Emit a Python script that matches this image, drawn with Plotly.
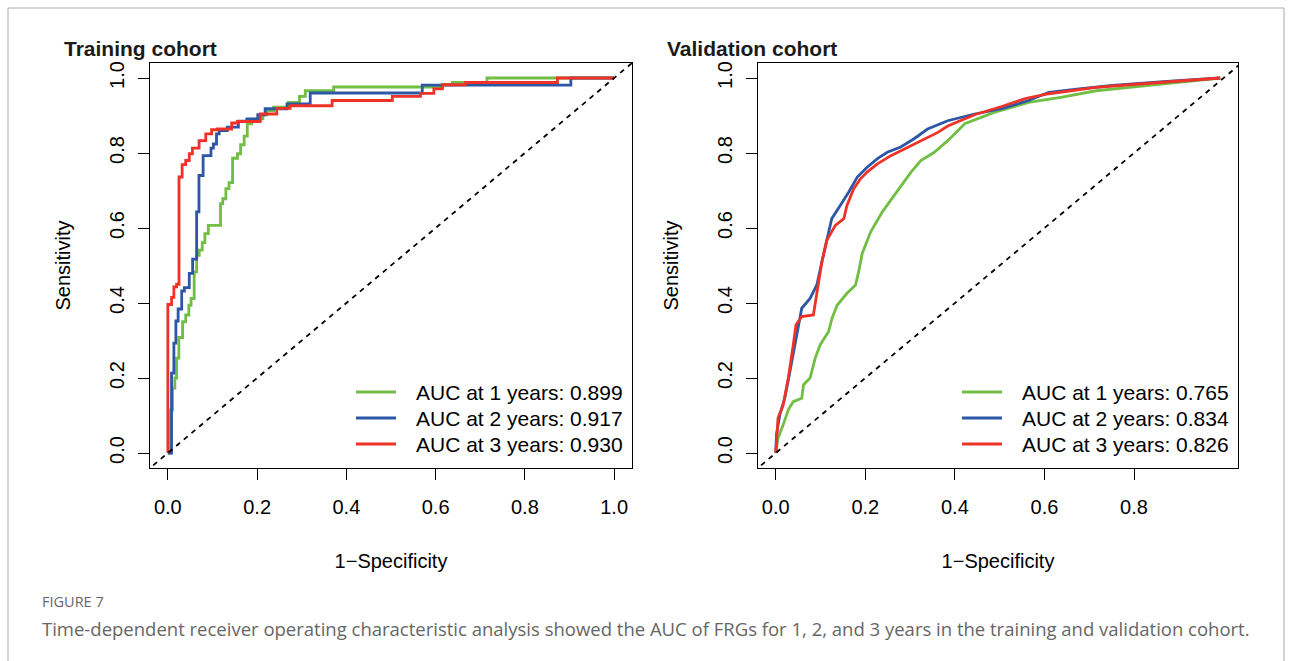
import plotly.graph_objects as go

W, H = 1292, 661

# ---------------- data ----------------
train_labels = ["AUC at 1 years: 0.899", "AUC at 2 years: 0.917", "AUC at 3 years: 0.930"]
val_labels = ["AUC at 1 years: 0.765", "AUC at 2 years: 0.834", "AUC at 3 years: 0.826"]
colors = ["#70BE44", "#2C56A6", "#EE3228"]

# Training cohort (step ROC curves, points after each vertical rise)
train_1y_fpr = [0, 0.006, 0.0105, 0.0157, 0.0195, 0.0247, 0.033, 0.04, 0.047, 0.052, 0.059, 0.0645,
                0.0703, 0.077, 0.083, 0.0906, 0.118, 0.123, 0.130, 0.137, 0.145, 0.156, 0.163, 0.171,
                0.178, 0.188, 0.199, 0.213, 0.222, 0.237, 0.27, 0.295, 0.308, 0.3715, 0.615, 0.6375,
                0.715, 1.0]
train_1y_tpr = [0, 0.115, 0.173, 0.2, 0.253, 0.308, 0.35, 0.368, 0.394, 0.412, 0.483, 0.527,
                0.541, 0.561, 0.585, 0.607, 0.665, 0.678, 0.705, 0.721, 0.786, 0.798, 0.822, 0.845,
                0.878, 0.884, 0.891, 0.902, 0.913, 0.922, 0.935, 0.951, 0.966, 0.976, 0.982, 0.9885,
                1.0, 1.0]

train_2y_fpr = [0, 0.0083, 0.0135, 0.018, 0.023, 0.031, 0.037, 0.048, 0.0555, 0.0645, 0.0697, 0.079,
                0.0966, 0.102, 0.109, 0.115, 0.133, 0.158, 0.177, 0.2015, 0.218, 0.267, 0.319, 0.570,
                0.903, 1.0]
train_2y_tpr = [0, 0.213, 0.293, 0.352, 0.384, 0.432, 0.441, 0.479, 0.517, 0.643, 0.74, 0.793,
                0.813, 0.824, 0.851, 0.86, 0.869, 0.885, 0.891, 0.902, 0.918, 0.931, 0.96, 0.981,
                1.0, 1.0]

train_3y_fpr = [0, 0, 0.0083, 0.0135, 0.0196, 0.025, 0.032, 0.040, 0.048, 0.055, 0.070, 0.085, 0.098,
                0.111, 0.143, 0.156, 0.207, 0.244, 0.274, 0.368, 0.503, 0.566, 0.596, 0.615, 0.667,
                0.873, 1.0]
train_3y_tpr = [0, 0.396, 0.415, 0.443, 0.45, 0.736, 0.769, 0.78, 0.798, 0.813, 0.833, 0.851, 0.862,
                0.864, 0.88, 0.884, 0.904, 0.919, 0.926, 0.94, 0.951, 0.959, 0.971, 0.982, 0.988,
                1.0, 1.0]

# Validation cohort
val_1y_fpr = [0, 0.005, 0.0165, 0.028, 0.039, 0.058, 0.062, 0.0766, 0.088, 0.099, 0.118, 0.1255, 0.137,
              0.159, 0.178, 0.185, 0.193, 0.212, 0.238, 0.264, 0.287, 0.302, 0.324, 0.354, 0.384, 0.407,
              0.422, 0.489, 0.5645, 0.64, 0.715, 0.79, 0.865, 0.94, 0.9925]
val_1y_tpr = [0, 0.04, 0.075, 0.115, 0.137, 0.146, 0.182, 0.2, 0.253, 0.288, 0.324, 0.359, 0.394,
              0.426, 0.448, 0.483, 0.532, 0.59, 0.643, 0.687, 0.723, 0.749, 0.78, 0.802, 0.833, 0.86,
              0.878, 0.909, 0.935, 0.949, 0.966, 0.975, 0.984, 0.995, 1.0]

val_2y_fpr = [0, 0.0015, 0.009, 0.020, 0.0315, 0.043, 0.050, 0.058, 0.0766, 0.0917, 0.103, 0.114, 0.125,
              0.144, 0.163, 0.182, 0.204, 0.227, 0.249, 0.279, 0.309, 0.339, 0.384, 0.444, 0.5045,
              0.5645, 0.61, 0.677, 0.752, 0.865, 0.94, 0.9925]
val_2y_tpr = [0, 0.049, 0.102, 0.146, 0.217, 0.288, 0.341, 0.386, 0.412, 0.448, 0.51, 0.572, 0.625,
              0.66, 0.696, 0.736, 0.762, 0.785, 0.802, 0.816, 0.838, 0.864, 0.886, 0.904, 0.918,
              0.94, 0.962, 0.971, 0.98, 0.99, 0.995, 1.0]

val_3y_fpr = [0, 0.002, 0.005, 0.0165, 0.028, 0.039, 0.045, 0.050, 0.058, 0.084, 0.095, 0.103, 0.114,
              0.133, 0.152, 0.159, 0.174, 0.189, 0.204, 0.227, 0.257, 0.287, 0.317, 0.362, 0.384,
              0.444, 0.5045, 0.557, 0.61, 0.715, 0.79, 0.9025, 0.9925]
val_3y_tpr = [0, 0.04, 0.093, 0.128, 0.2, 0.288, 0.341, 0.35, 0.364, 0.368, 0.448, 0.51, 0.567,
              0.607, 0.625, 0.66, 0.705, 0.731, 0.749, 0.771, 0.793, 0.811, 0.829, 0.855, 0.872,
              0.902, 0.924, 0.945, 0.958, 0.975, 0.982, 0.993, 1.0]

train_x_ticks = [0, 0.2, 0.4, 0.6, 0.8, 1.0]
val_x_ticks = [0, 0.2, 0.4, 0.6, 0.8]
y_ticks = [0, 0.2, 0.4, 0.6, 0.8, 1.0]

FONT = "Liberation Sans, Arial, sans-serif"

fig = go.Figure()

train = [(train_1y_fpr, train_1y_tpr), (train_2y_fpr, train_2y_tpr), (train_3y_fpr, train_3y_tpr)]
val = [(val_1y_fpr, val_1y_tpr), (val_2y_fpr, val_2y_tpr), (val_3y_fpr, val_3y_tpr)]

for (fx, ty), name, c in zip(train, train_labels, colors):
    fig.add_trace(go.Scatter(x=fx, y=ty, mode="lines", name=name, xaxis="x", yaxis="y",
                             line=dict(color=c, width=2.8, shape="hv"), showlegend=False))
fig.add_trace(go.Scatter(x=[-0.05, 1.05], y=[-0.05, 1.05], mode="lines", xaxis="x", yaxis="y",
                         line=dict(color="black", width=1.8, dash="5px,5px"), showlegend=False))

for (fx, ty), name, c in zip(val, val_labels, colors):
    fig.add_trace(go.Scatter(x=fx, y=ty, mode="lines", name=name, xaxis="x2", yaxis="y2",
                             line=dict(color=c, width=2.8), showlegend=False))
fig.add_trace(go.Scatter(x=[-0.05, 1.05], y=[-0.05, 1.05], mode="lines", xaxis="x2", yaxis="y2",
                         line=dict(color="black", width=1.8, dash="5px,5px"), showlegend=False))

def px_x(p):
    return p / W

def px_y(p):
    return 1 - p / H

axis_common = dict(showline=True, linecolor="black", linewidth=1, mirror=True,
                   showgrid=False, zeroline=False, ticks="outside", ticklen=11,
                   tickwidth=1, tickcolor="black", automargin=False,
                   tickfont=dict(family=FONT, size=20, color="black"))

box_bottom, box_top = 468, 63

fig.update_layout(
    width=W, height=H, autosize=False,
    margin=dict(l=0, r=0, t=0, b=0),
    paper_bgcolor="white", plot_bgcolor="white",
    font=dict(family=FONT, size=20, color="black"),
    showlegend=False,
    xaxis=dict(domain=[px_x(150), px_x(632)], range=[-0.04, 1.04], tickvals=train_x_ticks,
               ticktext=[f"{v:.1f}" for v in train_x_ticks], anchor="y",
               title=dict(text="1\u2212Specificity", standoff=36, font=dict(size=20)),
               ticklabelstandoff=10, **axis_common),
    yaxis=dict(domain=[px_y(box_bottom), px_y(box_top)], range=[-0.04, 1.04], tickvals=y_ticks,
               ticktext=[f"{v:.1f}" for v in y_ticks], anchor="x", tickangle=-90,
               title=dict(text="Sensitivity", standoff=30, font=dict(size=20)),
               ticklabelstandoff=6, **axis_common),
    xaxis2=dict(domain=[px_x(758), px_x(1238)], range=[-0.0397, 1.0322], tickvals=val_x_ticks,
                ticktext=[f"{v:.1f}" for v in val_x_ticks], anchor="y2",
                title=dict(text="1\u2212Specificity", standoff=36, font=dict(size=20)),
                ticklabelstandoff=10, **axis_common),
    yaxis2=dict(domain=[px_y(box_bottom), px_y(box_top)], range=[-0.04, 1.04], tickvals=y_ticks,
                ticktext=[f"{v:.1f}" for v in y_ticks], anchor="x2", tickangle=-90,
                title=dict(text="Sensitivity", standoff=30, font=dict(size=20)),
                ticklabelstandoff=6, **axis_common),
)

annotations = [
    dict(text="<b>Training cohort</b>", x=px_x(62), y=px_y(48), xref="paper", yref="paper",
         xanchor="left", yanchor="middle", showarrow=False, font=dict(family=FONT, size=21, color="#1a1a1a")),
    dict(text="<b>Validation cohort</b>", x=px_x(665), y=px_y(48), xref="paper", yref="paper",
         xanchor="left", yanchor="middle", showarrow=False, font=dict(family=FONT, size=21, color="#1a1a1a")),
    dict(text="FIGURE 7", x=px_x(40), y=px_y(601), xref="paper", yref="paper",
         xanchor="left", yanchor="middle", showarrow=False,
         font=dict(family="Open Sans, sans-serif", size=14.5, color="#666666")),
    dict(text="Time-dependent receiver operating characteristic analysis showed the AUC of FRGs for 1, 2, and 3 years in the training and validation cohort.",
         x=px_x(40), y=px_y(628), xref="paper", yref="paper",
         xanchor="left", yanchor="middle", showarrow=False,
         font=dict(family="Open Sans, sans-serif", size=18.5, color="#666666")),
]

# Legends (one per panel, no box) drawn at the bottom-right of each plot box
legend_rows_y = [392, 418, 444]
for labels, line_x0 in ((train_labels, 356), (val_labels, 962)):
    for lab, c, ry in zip(labels, colors, legend_rows_y):
        fig.add_shape(type="line", xref="paper", yref="paper",
                      x0=px_x(line_x0), x1=px_x(line_x0 + 40), y0=px_y(ry), y1=px_y(ry),
                      line=dict(color=c, width=2.8))
        annotations.append(dict(text=lab, x=px_x(line_x0 + 58), y=px_y(ry), xref="paper", yref="paper",
                                xanchor="left", yanchor="middle", showarrow=False,
                                font=dict(family=FONT, size=21, color="black")))

fig.update_layout(annotations=annotations)

fig.add_shape(type="rect", xref="paper", yref="paper", x0=px_x(8), x1=px_x(1284),
              y0=-0.05, y1=px_y(8), line=dict(color="#aaaaaa", width=1), layer="below")

fig.write_html("out.html")
